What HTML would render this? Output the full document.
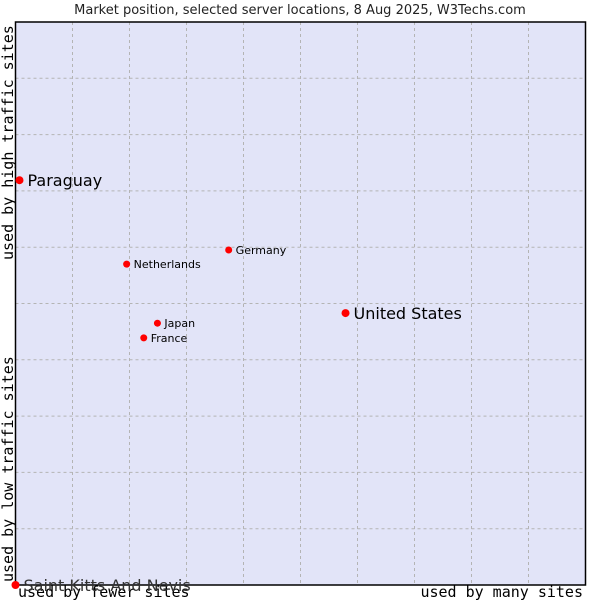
<!DOCTYPE html>
<html><head><meta charset="utf-8"><style>
body{margin:0;background:#fff}
svg{display:block}
</style></head><body>
<svg width="600" height="600" xmlns="http://www.w3.org/2000/svg">
<text x="300" y="14" text-anchor="middle" font-family="DejaVu Sans, sans-serif" font-size="13" fill="#222">Market position, selected server locations, 8 Aug 2025, W3Techs.com</text>
<rect x="15.5" y="22" width="570" height="563" fill="#e2e4f8"/>
<g id="grid"></g>
<path d="M15.5 22 H585.5 V585 H15.5 Z" fill="none" stroke="#000" stroke-width="1.5"/>
<text transform="translate(13,260) rotate(-90)" font-family="DejaVu Sans Mono, monospace" font-size="15" fill="#000">used by high traffic sites</text>
<text transform="translate(13,582) rotate(-90)" font-family="DejaVu Sans Mono, monospace" font-size="15" fill="#000">used by low traffic sites</text>
<text x="18" y="597" font-family="DejaVu Sans Mono, monospace" font-size="15" fill="#000">used by fewer sites</text>
<text x="583" y="597" text-anchor="end" font-family="DejaVu Sans Mono, monospace" font-size="15" fill="#000">used by many sites</text>
<g id="points"></g>
</svg>
<script>
const names=["Paraguay","Germany","Netherlands","United States","Japan","France","Saint Kitts And Nevis"];
const xVals=[0.07,3.74,1.95,5.79,2.49,2.25,0];
const yVals=[7.19,5.95,5.70,4.83,4.65,4.39,0];
const bigLabel=[true,false,false,true,false,false,true];
const L=15.5,R=585.5,T=22,B=585;
const sx=v=>L+v*(R-L)/10, sy=v=>B-v*(B-T)/10;
const ns="http://www.w3.org/2000/svg";
const g=document.getElementById('grid');
for(let i=1;i<10;i++){
  const v=document.createElementNS(ns,'line');
  
  
  v.setAttribute('x1',sx(i));v.setAttribute('x2',sx(i));v.setAttribute('y1',T);v.setAttribute('y2',B);
  v.setAttribute('stroke','#b4b4b4');v.setAttribute('stroke-dasharray','3,3');g.appendChild(v);
  const h=document.createElementNS(ns,'line');
  
  
  h.setAttribute('y1',sy(i));h.setAttribute('y2',sy(i));h.setAttribute('x1',L);h.setAttribute('x2',R);
  h.setAttribute('stroke','#b4b4b4');h.setAttribute('stroke-dasharray','3,3');g.appendChild(h);
}
const p=document.getElementById('points');
names.forEach((n,i)=>{
  const x=sx(xVals[i]),y=sy(yVals[i]);
  const c=document.createElementNS(ns,'circle');
  
  
  c.setAttribute('cx',x);c.setAttribute('cy',y);c.setAttribute('r',bigLabel[i]?4:3.5);c.setAttribute('fill','#f00');
  p.appendChild(c);
  const t=document.createElementNS(ns,'text');
  
  
  t.setAttribute('x',x+(bigLabel[i]?8:7));t.setAttribute('y',y+(bigLabel[i]?6:4));
  t.setAttribute('font-family','DejaVu Sans, sans-serif');
  t.setAttribute('font-size',bigLabel[i]?16:11);
  t.setAttribute('fill',i==6?'#333':'#000');
  t.textContent=n;p.appendChild(t);
});
</script>
</body></html>
